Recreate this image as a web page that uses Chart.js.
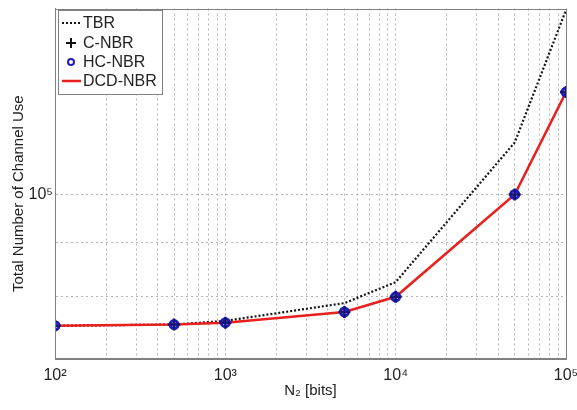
<!DOCTYPE html>
<html>
<head>
<meta charset="utf-8">
<script src="https://cdn.jsdelivr.net/npm/chart.js@4.4.1/dist/chart.umd.min.js"></script>
<style>
  html, body { margin: 0; padding: 0; background: #fff; }
  #wrap { width: 577px; height: 410px; }
</style>
</head>
<body>
<div id="wrap"><canvas id="chart" width="577" height="410"></canvas></div>
<script>
// N2 values (bits)
const n2Bits = [100, 500, 1000, 5000, 10000, 50000, 100000];

// total number of channel use
const tbrValues = [75100, 75300, 75900, 78900, 82600, 112000, 149500];
const cNbrValues = [75100, 75300, 75600, 77400, 80000, 100000, 125000];
const hcNbrValues = [75100, 75300, 75600, 77400, 80000, 100000, 125000];
const dcdNbrValues = [75100, 75300, 75600, 77400, 80000, 100000, 125000];

const xMajorTicks = [100, 1000, 10000, 100000];
const xTickLabels = ["10\u00b2", "10\u00b3", "10\u2074", "10\u2075"];
const yGridTicks = [70000, 80000, 90000, 100000];
const yMajorTicks = [100000];
const yTickLabels = ["10\u2075"];

const FONT = "'Liberation Sans', Arial, sans-serif";

function xyPoints(values) {
  return n2Bits.map((x, i) => ({ x, y: values[i] }));
}

// minor log grid: 1..9 times each decade
function logGrid(from, to) {
  const out = [];
  for (let d = from; d < to; d *= 10) {
    for (let k = 1; k < 10; k++) out.push(d * k);
  }
  out.push(to);
  return out;
}

const framePlugin = {
  id: "frame",
  afterDatasetsDraw(chart) {
    const { ctx, chartArea: a } = chart;
    ctx.save();
    ctx.strokeStyle = "#808080";
    ctx.lineWidth = 1;
    ctx.strokeRect(Math.round(a.left) + 0.5, Math.round(a.top) + 0.5,
      Math.round(a.right - a.left), Math.round(a.bottom - a.top));
    ctx.restore();
  }
};

const legendBoxPlugin = {
  id: "legendBox",
  afterDraw(chart) {
    const { ctx } = chart;
    const sets = chart.data.datasets;
    const x0 = 58, y0 = 10, w = 104, h = 84;
    ctx.save();
    ctx.fillStyle = "#fff";
    ctx.fillRect(x0, y0, w, h);
    ctx.strokeStyle = "#808080";
    ctx.lineWidth = 1;
    ctx.strokeRect(x0 + 0.5, y0 + 0.5, w, h);

    const rowY = [23, 43, 62, 81];
    sets.forEach((ds, i) => {
      const y = rowY[i];
      const cx = 71;
      ctx.save();
      if (ds.showLine === false) {
        ctx.strokeStyle = ds.pointBorderColor;
        ctx.lineWidth = 2;
        ctx.beginPath();
        if (ds.pointStyle === "cross") {
          ctx.strokeStyle = "#111";
          ctx.moveTo(cx - 5, y); ctx.lineTo(cx + 5, y);
          ctx.moveTo(cx, y - 5); ctx.lineTo(cx, y + 5);
        } else {
          ctx.arc(cx, y, 3, 0, Math.PI * 2);
        }
        ctx.stroke();
      } else {
        ctx.strokeStyle = ds.borderColor;
        ctx.lineWidth = ds.borderWidth;
        ctx.setLineDash(ds.borderDash || []);
        ctx.beginPath();
        ctx.moveTo(62, y); ctx.lineTo(81, y);
        ctx.stroke();
      }
      ctx.restore();
      ctx.fillStyle = "#222";
      ctx.font = "16px " + FONT;
      ctx.textBaseline = "middle";
      ctx.fillText(ds.label, 83, y + 1);
    });
    ctx.restore();
  }
};

new Chart(document.getElementById("chart"), {
  type: "line",
  data: {
    datasets: [
      {
        label: "TBR",
        data: xyPoints(tbrValues),
        borderColor: "#151515",
        borderWidth: 2.2,
        borderDash: [2, 2],
        pointRadius: 0,
        order: 4
      },
      {
        label: "C-NBR",
        data: xyPoints(cNbrValues),
        showLine: false,
        pointStyle: "cross",
        pointRadius: 6,
        pointBorderWidth: 2.5,
        pointBorderColor: "#16167a",
        order: 1
      },
      {
        label: "HC-NBR",
        data: xyPoints(hcNbrValues),
        showLine: false,
        pointStyle: "circle",
        pointRadius: 4,
        pointBorderWidth: 3,
        pointBorderColor: "#1c1cc0",
        pointBackgroundColor: "rgba(0,0,0,0)",
        order: 2
      },
      {
        label: "DCD-NBR",
        data: xyPoints(dcdNbrValues),
        borderColor: "#e8201e",
        borderWidth: 2.5,
        pointRadius: 0,
        order: 3
      }
    ]
  },
  options: {
    responsive: false,
    animation: false,
    layout: { padding: { top: 7, right: 11, left: 0, bottom: 0 } },
    plugins: {
      legend: { display: false },
      tooltip: { enabled: false }
    },
    scales: {
      x: {
        type: "logarithmic",
        min: 100,
        max: 100000,
        afterBuildTicks: (scale) => {
          scale.ticks = logGrid(100, 100000).map((value) => ({ value }));
        },
        afterFit: (scale) => {
          scale.height = 52;
          scale.paddingLeft = 0;
          scale.paddingRight = 0;
        },
        grid: { color: "#b4b4b4", lineWidth: 1, drawTicks: false },
        border: { display: true, color: "#808080", dash: [2, 3] },
        ticks: {
          autoSkip: false,
          maxRotation: 0,
          padding: 8,
          color: "#222",
          font: { size: 16, family: FONT },
          callback: (value) => {
            const i = xMajorTicks.indexOf(value);
            return i >= 0 ? xTickLabels[i] : "";
          }
        },
        title: {
          display: true,
          text: "N\u2082 [bits]",
          color: "#222",
          font: { size: 15, family: FONT },
          padding: { top: 0, bottom: 10 }
        }
      },
      y: {
        type: "logarithmic",
        min: 70000,
        max: 150000,
        afterBuildTicks: (scale) => {
          scale.ticks = yGridTicks.map((value) => ({ value }));
        },
        afterFit: (scale) => {
          scale.width = 55;
          scale.paddingTop = 0;
          scale.paddingBottom = 0;
        },
        grid: { color: "#b4b4b4", lineWidth: 1, drawTicks: false },
        border: { display: true, color: "#808080", dash: [2, 3] },
        ticks: {
          autoSkip: false,
          padding: 2,
          color: "#222",
          font: { size: 16, family: FONT },
          callback: (value) => {
            const i = yMajorTicks.indexOf(value);
            return i >= 0 ? yTickLabels[i] : "";
          }
        },
        title: {
          display: true,
          // trailing spaces nudge the title down to sit where the original does
          text: "Total Number of Channel Use\u00a0\u00a0\u00a0\u00a0\u00a0",
          color: "#222",
          font: { size: 15, family: FONT },
          padding: { top: 10, bottom: 0 }
        }
      }
    }
  },
  plugins: [framePlugin, legendBoxPlugin]
});
</script>
</body>
</html>
